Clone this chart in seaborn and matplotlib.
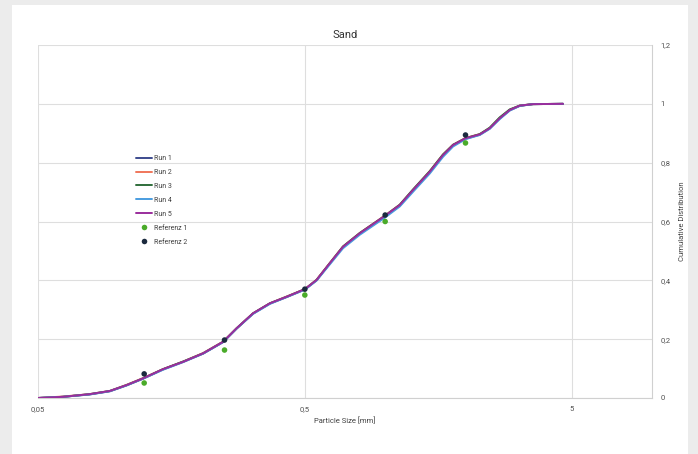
import pandas as pd
import matplotlib.pyplot as plt
import seaborn as sns
from matplotlib.patches import Rectangle

size = [0.050, 0.062, 0.078, 0.093, 0.1075, 0.124, 0.147, 0.175, 0.208, 0.247,
        0.2775, 0.320, 0.370, 0.427, 0.500, 0.553, 0.620, 0.695, 0.8035, 0.997,
        1.134, 1.272, 1.469, 1.648, 1.797, 2.000, 2.262, 2.465, 2.687, 2.930,
        3.194, 3.582, 4.640]

run1 = [0.000, 0.004, 0.012, 0.023, 0.043, 0.066, 0.097, 0.123, 0.151, 0.190,
        0.236, 0.287, 0.321, 0.343, 0.369, 0.400, 0.457, 0.513, 0.558, 0.616,
        0.654, 0.705, 0.767, 0.824, 0.858, 0.881, 0.895, 0.916, 0.950, 0.978,
        0.993, 0.999, 1.000]
run2 = [0.000, 0.005, 0.013, 0.024, 0.045, 0.068, 0.098, 0.124, 0.153, 0.192,
        0.237, 0.288, 0.322, 0.345, 0.370, 0.402, 0.459, 0.515, 0.561, 0.620,
        0.657, 0.708, 0.771, 0.828, 0.861, 0.884, 0.897, 0.918, 0.952, 0.980,
        0.994, 0.999, 1.000]
run3 = [0.000, 0.004, 0.013, 0.024, 0.044, 0.067, 0.098, 0.124, 0.152, 0.191,
        0.237, 0.288, 0.322, 0.344, 0.370, 0.401, 0.458, 0.515, 0.561, 0.619,
        0.657, 0.709, 0.771, 0.828, 0.861, 0.883, 0.897, 0.919, 0.954, 0.981,
        0.994, 0.999, 1.000]
run4 = [0.000, 0.004, 0.012, 0.023, 0.043, 0.066, 0.096, 0.122, 0.151, 0.190,
        0.236, 0.286, 0.320, 0.343, 0.368, 0.399, 0.454, 0.509, 0.555, 0.613,
        0.651, 0.701, 0.763, 0.820, 0.855, 0.880, 0.894, 0.915, 0.948, 0.977,
        0.993, 0.999, 1.000]
run5 = [0.000, 0.004, 0.013, 0.024, 0.044, 0.067, 0.098, 0.123, 0.152, 0.191,
        0.237, 0.288, 0.322, 0.344, 0.370, 0.401, 0.458, 0.514, 0.560, 0.619,
        0.656, 0.707, 0.769, 0.826, 0.860, 0.883, 0.896, 0.917, 0.951, 0.979,
        0.994, 0.999, 1.000]

ref_size = [0.125, 0.25, 0.5, 1.0, 2.0]
ref1 = [0.051, 0.163, 0.350, 0.600, 0.867]
ref2 = [0.082, 0.197, 0.370, 0.622, 0.894]

x_ticks = [0.05, 0.5, 5]
x_tick_labels = ['0,05', '0,5', '5']
y_ticks = [0, 0.2, 0.4, 0.6, 0.8, 1.0, 1.2]
y_tick_labels = ['0', '0,2', '0,4', '0,6', '0,8', '1', '1,2']

runs = {'Run 1': run1, 'Run 2': run2, 'Run 3': run3, 'Run 4': run4, 'Run 5': run5}
run_df = pd.concat([pd.DataFrame({'size': size, 'cum': v, 'series': k}) for k, v in runs.items()])
ref_df = pd.concat([
    pd.DataFrame({'size': ref_size, 'cum': ref1, 'series': 'Referenz 1'}),
    pd.DataFrame({'size': ref_size, 'cum': ref2, 'series': 'Referenz 2'}),
])

sns.set_style('white')
plt.rcParams['font.family'] = ['Roboto', 'DejaVu Sans']

fig = plt.figure(figsize=(6.98, 4.54), dpi=100)
fig.patch.set_facecolor('#ececec')
# white card behind the chart
fig.patches.append(Rectangle((12 / 698, 0), 676 / 698, 449 / 454, transform=fig.transFigure,
                             facecolor='white', edgecolor='none', zorder=-10))
ax = fig.add_axes([38 / 698, 1 - 398 / 454, 614 / 698, 353 / 454])
ax.set_facecolor('none')
ax.set_zorder(5)

run_colors = ['#3c4b8e', '#f0765a', '#2f6e3b', '#4a9de0', '#9a2d9c']
sns.lineplot(data=run_df, x='size', y='cum', hue='series', palette=run_colors,
             linewidth=1.4, ax=ax, legend=True, zorder=3)
sns.scatterplot(data=ref_df, x='size', y='cum', hue='series', palette=['#4aab2a', '#1b2a3e'],
                s=16, edgecolor='none', ax=ax, zorder=4)

ax.set_xscale('log')
ax.set_xlim(0.05, 10)
ax.set_ylim(0, 1.2)
ax.set_xticks(x_ticks)
ax.set_xticklabels(x_tick_labels)
ax.xaxis.set_minor_locator(plt.NullLocator())
ax.set_yticks(y_ticks)
ax.set_yticklabels(y_tick_labels)
ax.yaxis.tick_right()
ax.yaxis.set_label_position('right')
ax.tick_params(axis='both', length=0, labelsize=5.5, colors='#505050', pad=6)

ax.grid(True, color='#dedede', linewidth=0.8)
for s in ['top', 'left']:
    ax.spines[s].set_visible(False)
for s in ['right', 'bottom']:
    ax.spines[s].set_color('#d0d0d0')
    ax.spines[s].set_linewidth(0.8)

ax.set_title('Sand', fontsize=8, color='#333333', pad=5)
ax.set_xlabel('Particle Size [mm]', fontsize=5.5, color='#404040', labelpad=3)
ax.set_ylabel('Cumulative Distribution', fontsize=5.5, color='#404040', labelpad=6)

ax.legend(loc='upper left', bbox_to_anchor=(0.15, 0.706), frameon=False, fontsize=5,
          handlelength=2.2, labelspacing=1.0, handletextpad=0.3)
for t in ax.get_legend().get_texts():
    t.set_color('#404040')

fig.savefig('out.png', dpi=100, facecolor=fig.get_facecolor())
